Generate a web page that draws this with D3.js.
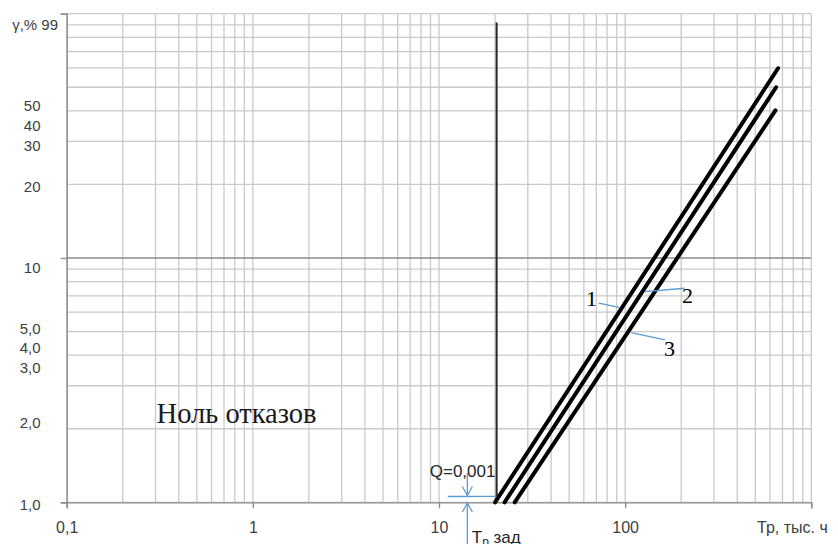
<!DOCTYPE html>
<html>
  <head>
    <meta charset="utf-8" />
    <script src="https://d3js.org/d3.v7.min.js"></script>
    <style>
      body {
        margin: 0;
        background: #fff;
      }
      text {
        font-family: "Liberation Sans", Arial, sans-serif;
      }
      .serif {
        font-family: "Liberation Serif", "Times New Roman", serif;
      }
    </style>
  </head>
  <body>
    <div id="chart"></div>
    <script>
      // x axis: Tp, thousand hours (log), y axis: gamma, % (log)
      const xTickValues = [0.1, 1, 10, 100, 1000];
      const xTickLabels = ["0,1", "1", "10", "100", ""];
      const yTickLabels = ["1,0", "2,0", "3,0", "4,0", "5,0", "10", "20", "30", "40", "50", "99"];
      const yTickAt = [0.975, 2.11, 3.55, 4.28, 5.12, 9.1, 19.6, 28.8, 34.8, 41.9, 90.3];

      // three parallel lines: [Tp, gamma] end points
      const line1 = [[20, 1], [663, 59.8]];
      const line2 = [[22.5, 1], [647, 50]];
      const line3 = [[25.5, 1], [642, 40.2]];
      const lineNames = ["1", "2", "3"];
      // label position and leader line (from, to) per line
      const labelAt = [[66, 6.86], [216, 7.06], [173, 4.28]];
      const leaders = [
        [[72.3, 6.53], [92.5, 6.28]],
        [[208.4, 7.52], [127.1, 7.28]],
        [[163.5, 4.62], [107.8, 4.95]],
      ];

      // given life T_p zad and the vertical limit line
      const tZad = 20.4;
      const tZadTop = 92;
      const qArrowX = 14.2;

      const W = 838, H = 544;
      const svg = d3
        .select("#chart")
        .append("svg")
        .attr("width", W)
        .attr("height", H);

      const x = d3.scaleLog().domain([0.1, 1000]).range([66.7, 811.3]);
      const y = d3.scaleLog().domain([1, 100]).range([502.3, 13.7]);

      // grid
      const grid = svg.append("g");
      grid
        .selectAll("line.v")
        .data(x.ticks())
        .join("line")
        .attr("x1", (d) => x(d))
        .attr("x2", (d) => x(d))
        .attr("y1", y(100))
        .attr("y2", y(1))
        .attr("stroke", "#cacaca")
        .attr("stroke-width", 1.3);
      grid
        .selectAll("line.h")
        .data(y.ticks())
        .join("line")
        .attr("x1", x(0.1))
        .attr("x2", x(1000))
        .attr("y1", (d) => y(d))
        .attr("y2", (d) => y(d))
        .attr("stroke", (d) => (d === 10 ? "#8a8a8a" : "#cacaca"))
        .attr("stroke-width", 1.3);

      // bottom axis
      const xAxis = svg
        .append("g")
        .attr("transform", `translate(0,${y(1)})`)
        .call(
          d3
            .axisBottom(x)
            .tickValues(xTickValues)
            .tickFormat((d, i) => xTickLabels[i])
            .tickSizeOuter(0)
            .tickSize(6)
            .tickPadding(13)
        );
      // left axis (ticks only, labels placed by hand below)
      const yAxis = svg
        .append("g")
        .attr("transform", `translate(${x(0.1)},0)`)
        .call(d3.axisLeft(y).tickValues([1, 10, 100]).tickFormat("").tickSizeOuter(0).tickSize(6));
      [xAxis, yAxis].forEach((g) => {
        g.select(".domain").attr("stroke", "#8a8a8a").attr("stroke-width", 1.3);
        g.selectAll(".tick line").attr("stroke", "#8a8a8a").attr("stroke-width", 1.3);
        g.selectAll(".tick text")
          .attr("fill", "#404040")
          .style("font-size", "16px")
          .style("font-family", "Liberation Sans, Arial, sans-serif");
      });

      svg
        .append("g")
        .selectAll("text")
        .data(yTickLabels)
        .join("text")
        .attr("x", (d, i) => (i === yTickLabels.length - 1 ? 58 : 40.5))
        .attr("y", (d, i) => y(yTickAt[i]))
        .attr("dy", "0.36em")
        .attr("text-anchor", "end")
        .attr("fill", "#404040")
        .style("font-size", "15px")
        .text((d, i) => (i === yTickLabels.length - 1 ? "γ,% " + d : d));

      // x axis title
      svg
        .append("text")
        .attr("x", 757)
        .attr("y", 533)
        .attr("fill", "#404040")
        .style("font-size", "16px")
        .text("Тр, тыс. ч");

      // vertical limit line at T_p zad
      svg
        .append("line")
        .attr("x1", x(tZad))
        .attr("x2", x(tZad))
        .attr("y1", y(tZadTop))
        .attr("y2", y(1))
        .attr("stroke", "#2a2a2a")
        .attr("stroke-width", 2);

      // the three lines
      const lineGen = d3
        .line()
        .x((d) => x(d[0]))
        .y((d) => y(d[1]));
      svg
        .append("g")
        .selectAll("path")
        .data([line1, line2, line3])
        .join("path")
        .attr("d", lineGen)
        .attr("fill", "none")
        .attr("stroke", "#000")
        .attr("stroke-width", 4)
        .attr("stroke-linecap", "round");

      // leaders and labels
      const blue = "#5b9bd5";
      svg
        .append("g")
        .selectAll("line")
        .data(leaders)
        .join("line")
        .attr("x1", (d) => x(d[0][0]))
        .attr("y1", (d) => y(d[0][1]))
        .attr("x2", (d) => x(d[1][0]))
        .attr("y2", (d) => y(d[1][1]))
        .attr("stroke", blue)
        .attr("stroke-width", 1.3);
      svg
        .append("g")
        .selectAll("text")
        .data(lineNames)
        .join("text")
        .attr("class", "serif")
        .attr("x", (d, i) => x(labelAt[i][0]))
        .attr("y", (d, i) => y(labelAt[i][1]))
        .attr("dy", "0.35em")
        .attr("text-anchor", "middle")
        .style("font-size", "22px")
        .text((d) => d);

      // "zero failures" zone label
      svg
        .append("text")
        .attr("class", "serif")
        .attr("x", x(0.304))
        .attr("y", y(2.12))
        .attr("fill", "#1a1a1a")
        .style("font-size", "28.5px")
        .text("Ноль отказов");

      // Q = 0,001 annotation with arrows
      svg
        .append("text")
        .attr("x", x(8.92))
        .attr("y", y(1.275))
        .attr("fill", "#262626")
        .style("font-size", "17px")
        .text("Q=0,001");
      const ax = x(qArrowX);
      const ann = svg.append("g").attr("stroke", blue).attr("stroke-width", 1.3).attr("fill", "none");
      ann.append("line").attr("x1", ax).attr("x2", ax).attr("y1", y(1.318)).attr("y2", y(1.066));
      ann.append("path").attr("d", `M${ax - 5},${y(1.066) - 9}L${ax},${y(1.066)}L${ax + 5},${y(1.066) - 9}`);
      ann.append("line").attr("x1", x(11.14)).attr("x2", x(tZad)).attr("y1", y(1.056)).attr("y2", y(1.058));
      ann.append("line").attr("x1", ax).attr("x2", ax).attr("y1", y(0.993)).attr("y2", H);
      ann.append("path").attr("d", `M${ax - 5},${y(0.993) + 9}L${ax},${y(0.993)}L${ax + 5},${y(0.993) + 9}`);

      const tz = svg
        .append("text")
        .attr("x", x(15.0))
        .attr("y", 543)
        .attr("fill", "#262626")
        .style("font-size", "17px");
      tz.append("tspan").text("T");
      tz.append("tspan").attr("dy", 3).style("font-size", "12px").text("р");
      tz.append("tspan").attr("dy", -3).text(" зад");
    </script>
  </body>
</html>
